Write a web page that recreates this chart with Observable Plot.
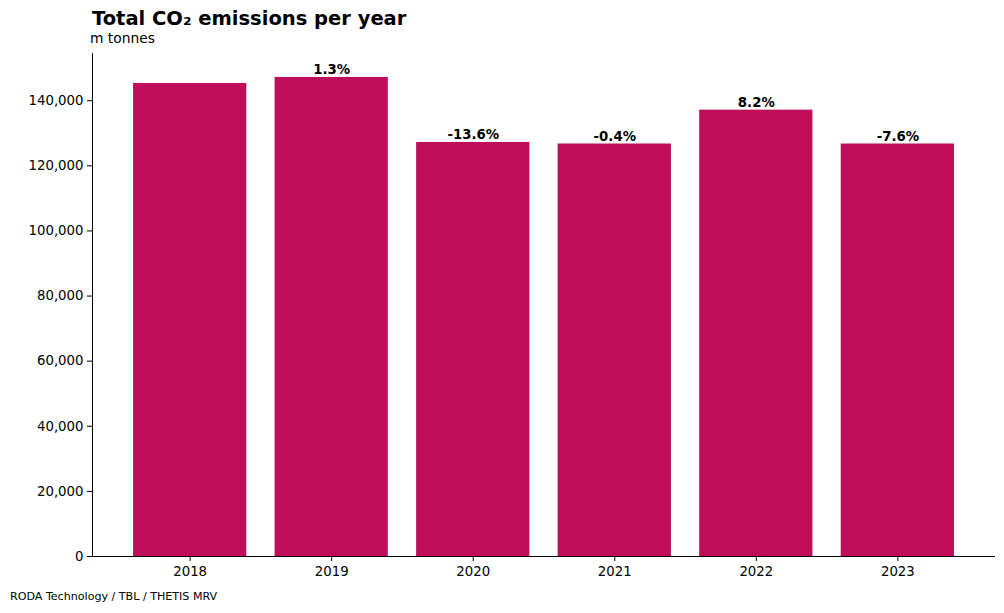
<!DOCTYPE html>
<html>
<head>
<meta charset="utf-8">
<script src="https://cdn.jsdelivr.net/npm/d3@7"></script>
<script src="https://cdn.jsdelivr.net/npm/@observablehq/plot@0.6"></script>
<style>
  body { margin: 0; background: #fff; font-family: "DejaVu Sans", sans-serif; }
  #wrap { position: relative; width: 1004px; height: 613px; overflow: hidden; }
  #title { position: absolute; left: 92px; top: 7px; font-size: 19.5px; font-weight: bold; color: #000; white-space: nowrap; }
  #subtitle { position: absolute; left: 90px; top: 30px; font-size: 13.8px; color: #000; white-space: nowrap; }
  #caption { position: absolute; left: 10px; top: 590px; font-size: 11.1px; color: #000; white-space: nowrap; }
  #chart { position: absolute; left: 0; top: 0; }
</style>
</head>
<body>
<div id="wrap">
  <div id="chart"></div>
  <div id="title">Total CO₂ emissions per year</div>
  <div id="subtitle">m tonnes</div>
  <div id="caption">RODA Technology / TBL / THETIS MRV</div>
</div>
<script>
const years = ["2018", "2019", "2020", "2021", "2022", "2023"];
const emissions = [145300, 147150, 127180, 126700, 137100, 126700];
const changeLabels = ["", "1.3%", "-13.6%", "-0.4%", "8.2%", "-7.6%"];
const yTicks = [0, 20000, 40000, 60000, 80000, 100000, 120000, 140000];

const data = years.map((y, i) => ({year: y, value: emissions[i], label: changeLabels[i]}));
const fmt = d3.format(",");

const plot = Plot.plot({
  width: 1004,
  height: 613,
  marginTop: 53,
  marginBottom: 57,
  marginLeft: 92,
  marginRight: 9,
  style: {fontFamily: "DejaVu Sans, sans-serif", fontSize: "13.3px", color: "#000", background: "transparent"},
  x: {type: "band", domain: years, paddingInner: 0.2, paddingOuter: 0.29, align: 0.5, round: false},
  y: {domain: [0, 154500]},
  marks: [
    Plot.barY(data, {x: "year", y: "value", fill: "#be0e5a"}),
    Plot.text(data, {x: "year", y: "value", text: "label", lineAnchor: "bottom", dy: -3, fontWeight: "bold", fontSize: 13.3, fill: "#000"}),
    Plot.axisY({ticks: yTicks, tickFormat: fmt, tickSize: 5, tickPadding: 4, label: null, fontSize: 13.3}),
    Plot.axisX({tickSize: 5, tickPadding: 5, label: null, fontSize: 13.3}),
    Plot.ruleY([0], {stroke: "#000", strokeWidth: 1}),
    Plot.frame({anchor: "left", stroke: "#000", strokeWidth: 1})
  ]
});
document.getElementById("chart").appendChild(plot);
</script>
</body>
</html>
